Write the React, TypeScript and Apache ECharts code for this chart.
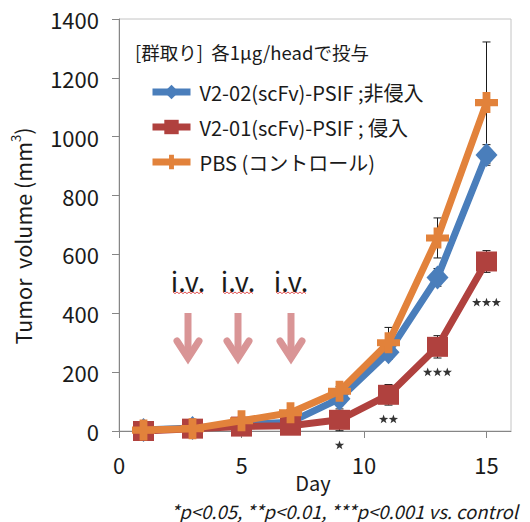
import React, { useEffect, useRef } from 'react';
import * as echarts from 'echarts';

const days = [1, 3, 5, 7, 9, 11, 13, 15];
const v202 = [3, 10, 22, 30, 110, 268, 522, 938];
const v202Err = [2, 4, 6, 8, 15, 25, 30, 35];
const v201 = [0, 8, 15, 18, 38, 123, 286, 576];
const v201Err = [2, 4, 6, 6, 37, 35, 38, 37];
const pbs = [3, 8, 35, 62, 135, 300, 656, 1116];
const pbsErr = [2, 4, 8, 10, 15, 52, 68, 206];
const seriesNames = ['V2-02(scFv)-PSIF ;非侵入', 'V2-01(scFv)-PSIF ; 侵入', 'PBS (コントロール)'];
const seriesColors = ['#4a7ebb', '#b0413e', '#e2823b'];
const xTicks = [0, 5, 10, 15];
const sigDays = [9, 11, 13, 15];
const sigCounts = [1, 2, 3, 3];
const sigY = [-47, 41, 201, 438];
const ivLabels = ['i.v.', 'i.v.', 'i.v.'];
const ivX = [188, 238, 291];

const FONT = "'Noto Sans CJK JP', sans-serif";
const PLUS = 'path://M3.3,0 H6.7 V3.3 H10 V6.7 H6.7 V10 H3.3 V6.7 H0 V3.3 H3.3 Z';

const STAR_PTS = [
  [5, 0], [6.18, 3.38], [9.76, 3.45], [6.9, 5.62], [7.94, 9.05],
  [5, 7], [2.06, 9.05], [3.1, 5.62], [0.24, 3.45], [3.82, 3.38],
];
function starsPath(n: number) {
  let d = '';
  for (let k = 0; k < n; k++) {
    const ox = k * 10;
    d += STAR_PTS.map((p, i) => `${i === 0 ? 'M' : 'L'}${(p[0] + ox).toFixed(2)},${p[1]}`).join(' ') + ' Z ';
  }
  return 'path://' + d.trim();
}
const STAR_SCALE = 0.98;

function errSeries(vals: number[], errs: number[]) {
  return {
    type: 'custom',
    z: 1,
    silent: true,
    clip: false,
    data: days.map((d, i) => [d, vals[i], errs[i]]),
    encode: { x: 0, y: 1 },
    renderItem: (params: any, api: any) => {
      const x = api.value(0);
      const y = api.value(1);
      const e = api.value(2);
      const top = api.coord([x, y + e]);
      const bot = api.coord([x, y - e]);
      const cw = 4;
      const st = { stroke: '#1a1a1a', lineWidth: 1 };
      return {
        type: 'group',
        children: [
          { type: 'line', shape: { x1: top[0], y1: top[1], x2: bot[0], y2: bot[1] }, style: st },
          { type: 'line', shape: { x1: top[0] - cw, y1: top[1], x2: top[0] + cw, y2: top[1] }, style: st },
          { type: 'line', shape: { x1: bot[0] - cw, y1: bot[1], x2: bot[0] + cw, y2: bot[1] }, style: st },
        ],
      };
    },
  };
}

function squiggle(cx: number, y: number, w: number) {
  const pts: number[][] = [];
  const start = cx - w / 2;
  for (let i = 0; i <= w / 2; i++) {
    pts.push([start + i * 2, y + (i % 2 === 0 ? 0 : 1.6)]);
  }
  return { type: 'polyline', shape: { points: pts }, style: { stroke: '#e05050', lineWidth: 1, fill: null } };
}

function arrow(cx: number) {
  const c = '#d99596';
  return [
    { type: 'line', shape: { x1: cx, y1: 313, x2: cx, y2: 358 }, style: { stroke: c, lineWidth: 7 } },
    {
      type: 'polyline',
      shape: { points: [[cx - 11, 341], [cx, 358], [cx + 11, 341]] },
      style: { stroke: c, lineWidth: 7, lineCap: 'round', lineJoin: 'miter', fill: null },
    },
  ];
}

export default function App() {
  const ref = useRef<HTMLDivElement>(null);
  useEffect(() => {
    if (!ref.current) return;
    const chart = echarts.init(ref.current, undefined, { renderer: 'svg' });
    const lineSeries = [v202, v201, pbs].map((vals, i) => ({
      name: seriesNames[i],
      type: 'line',
      z: 2 + i,
      data: days.map((d, j) => [d, vals[j]]),
      symbol: i === 0 ? 'diamond' : i === 1 ? 'rect' : PLUS,
      symbolSize: i === 0 ? [22, 24] : i === 1 ? [21, 20] : [23, 21],
      lineStyle: { color: seriesColors[i], width: 7 },
      itemStyle: { color: seriesColors[i] },
      showSymbol: true,
    }));
    const graphics: any[] = [
      {
        type: 'text', x: 135, y: 52,
        style: { text: '[群取り]  各1μg/headで投与', fontSize: 18.5, fontFamily: FONT, fill: '#1a1a1a', verticalAlign: 'middle' },
      },
      {
        type: 'text', x: 22, y: 236, rotation: Math.PI / 2,
        style: {
          text: '{a|Tumor  volume (mm}{s|3}{a|)}',
          fontFamily: FONT, fill: '#1a1a1a', align: 'center', verticalAlign: 'middle',
          rich: { a: { fontSize: 21.5, fontFamily: FONT, lineHeight: 26 }, s: { fontSize: 13, fontFamily: FONT, verticalAlign: 'top', lineHeight: 26 } },
        },
      },
      {
        type: 'text', x: 313, y: 482,
        style: { text: 'Day', fontSize: 20, lineHeight: 20, fontFamily: FONT, fill: '#1a1a1a', align: 'center', verticalAlign: 'middle' },
      },
      {
        type: 'text', x: 518, y: 511,
        style: { text: '*p<0.05, **p<0.01, ***p<0.001 vs. control', fontSize: 18.5, lineHeight: 19, fontStyle: 'italic', fontFamily: FONT, fill: '#1a1a1a', align: 'right', verticalAlign: 'middle' },
      },
    ];
    ivX.forEach((x, i) => {
      graphics.push({
        type: 'text', x, y: 280,
        style: { text: ivLabels[i], fontSize: 27, fontFamily: FONT, fill: '#1a1a1a', align: 'center', verticalAlign: 'middle' },
      });
      graphics.push(squiggle(x, 292, 30));
      graphics.push(...arrow(x));
    });

    chart.setOption({
      animation: false,
      grid: { left: 119, right: 19, top: 19, bottom: 91, show: true, borderColor: '#c4c4c4', borderWidth: 1 },
      xAxis: {
        type: 'value', min: 0, max: 16, interval: 5,
        axisLine: { show: true, lineStyle: { color: '#868686', width: 1 } },
        axisTick: { show: true, length: 7, lineStyle: { color: '#868686' }, customValues: xTicks },
        axisLabel: { customValues: xTicks, fontSize: 22, fontFamily: FONT, color: '#1a1a1a', margin: 22 },
        splitLine: { show: false },
      },
      yAxis: {
        type: 'value', min: 0, max: 1400, interval: 200,
        axisLine: { show: true, lineStyle: { color: '#868686', width: 1 } },
        axisTick: { show: true, length: 7, lineStyle: { color: '#868686' } },
        axisLabel: { fontSize: 22, fontFamily: FONT, color: '#1a1a1a', margin: 20, formatter: (v: number) => String(v) },
        splitLine: { show: false },
      },
      legend: {
        data: seriesNames,
        orient: 'vertical',
        left: 144, top: 77,
        itemWidth: 38, itemHeight: 18, itemGap: 15,
        lineStyle: { width: 7 },
        textStyle: { fontSize: 20, fontFamily: FONT, color: '#1a1a1a', padding: [0, 0, 0, 4] },
        selectedMode: false,
      },
      graphic: graphics,
      series: [
        errSeries(v202, v202Err),
        errSeries(v201, v201Err),
        errSeries(pbs, pbsErr),
        ...lineSeries,
        {
          type: 'scatter',
          silent: true,
          clip: false,
          z: 6,
          itemStyle: { color: '#000' },
          data: sigDays.map((d, i) => ({
            value: [d, sigY[i]],
            symbol: starsPath(sigCounts[i]),
            symbolSize: [((sigCounts[i] - 1) * 10 + 9.52) * STAR_SCALE, 9.05 * STAR_SCALE],
          })),
        },
      ],
    });
    return () => chart.dispose();
  }, []);
  return <div ref={ref} style={{ position: 'absolute', left: 0, top: 0, width: 530, height: 522 }} />;
}
